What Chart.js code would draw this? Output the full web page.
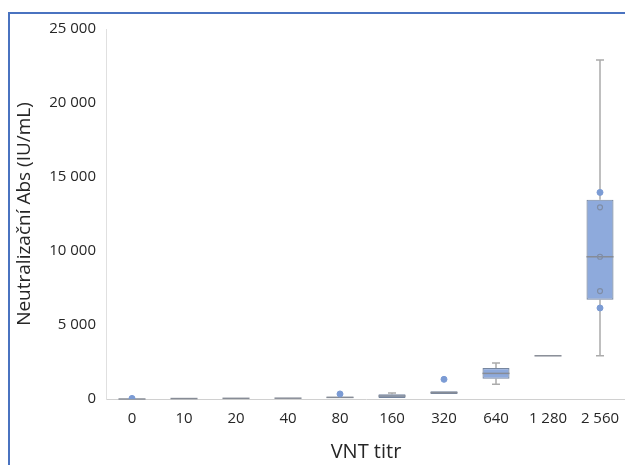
<!DOCTYPE html>
<html>
<head>
<meta charset="utf-8">
<script src="https://cdn.jsdelivr.net/npm/chart.js@4.4.1/dist/chart.umd.min.js"></script>
<style>
  html, body { margin: 0; padding: 0; overflow: hidden; background: #fff; }
  #wrap { position: absolute; left: 0; top: 0; width: 640px; height: 465px; }
</style>
</head>
<body>
<div id="wrap"><canvas id="boxChart" width="640" height="465"></canvas></div>
<script>
// kategorie VNT titru
const categories = ['0', '10', '20', '40', '80', '160', '320', '640', '1 280', '2 560'];

// souhrn boxplotu (IU/mL)
const minVals    = [0,  20, 30, 40,  60,  60, 330,  990, 2920,  2920];
const q1Vals     = [0,  30, 40, 50,  70,  70, 340, 1370, 2920,  6710];
const medianVals = [0,  30, 45, 55, 110, 200, 430, 1730, 2920,  9610];
const q3Vals     = [0,  40, 50, 60, 160, 320, 520, 2090, 2920, 13470];
const maxVals    = [20, 40, 50, 70, 160, 400, 520, 2440, 2920, 22900];

// jednotlivé body (plné a prázdné kroužky)
const filledCats = ['0', '80', '320', '2 560', '2 560'];
const filledVals = [40, 340, 1330, 13960, 6150];
const openCats = ['2 560', '2 560', '2 560'];
const openVals = [12950, 9610, 7290];

const yTicks = [0, 5000, 10000, 15000, 20000, 25000];

function fmt(v) {
    return String(v).replace(/\B(?=(\d{3})+(?!\d))/g, ' ');
}

// rámeček kolem grafu (modrá linka nahoře a vlevo)
const framePlugin = {
    id: 'frame',
    beforeDraw(chart) {
        const c = chart.ctx;
        c.save();
        c.strokeStyle = '#4a73c0';
        c.lineWidth = 2;
        c.beginPath();
        c.moveTo(9, 470);
        c.lineTo(9, 13);
        c.lineTo(700, 13);
        c.stroke();
        c.restore();
    }
};

// vousy + mediány
const whiskerPlugin = {
    id: 'whiskers',
    beforeDatasetsDraw(chart) {
        const c = chart.ctx;
        const x = chart.scales.x, y = chart.scales.y;
        c.save();
        c.strokeStyle = '#ababab';
        c.lineWidth = 1.5;
        categories.forEach(function (cat, i) {
            const cx = x.getPixelForValue(i);
            const yMin = y.getPixelForValue(minVals[i]);
            const yMax = y.getPixelForValue(maxVals[i]);
            const yQ1 = y.getPixelForValue(q1Vals[i]);
            const yQ3 = y.getPixelForValue(q3Vals[i]);
            c.beginPath();
            c.moveTo(cx, yMax); c.lineTo(cx, yQ3);
            c.moveTo(cx, yQ1); c.lineTo(cx, yMin);
            if (maxVals[i] - q3Vals[i] > 50) { c.moveTo(cx - 4, yMax); c.lineTo(cx + 4, yMax); }
            if (q1Vals[i] - minVals[i] > 100) { c.moveTo(cx - 4, yMin); c.lineTo(cx + 4, yMin); }
            c.stroke();
        });
        c.restore();
    },
    afterDatasetDraw(chart, args) {
        if (args.index !== 0) return;
        const c = chart.ctx;
        const y = chart.scales.y;
        const meta = chart.getDatasetMeta(0);
        c.save();
        c.strokeStyle = '#878c96';
        c.lineWidth = 1.5;
        meta.data.forEach(function (bar, i) {
            const half = bar.width / 2;
            const ym = y.getPixelForValue(medianVals[i]);
            c.beginPath();
            c.moveTo(bar.x - half, ym);
            c.lineTo(bar.x + half, ym);
            c.stroke();
        });
        c.restore();
    }
};

const ctx = document.getElementById('boxChart').getContext('2d');
const boxChart = new Chart(ctx, {
    data: {
        labels: categories,
        datasets: [
            {
                type: 'bar',
                label: 'box',
                data: categories.map((c, i) => [q1Vals[i], q3Vals[i]]),
                backgroundColor: '#8eaadc',
                borderColor: '#76869f',
                borderWidth: 1.2,
                borderSkipped: false,
                barPercentage: 0.52,
                categoryPercentage: 1,
                order: 3
            },
            {
                type: 'line',
                label: 'body',
                data: filledCats.map((c, i) => ({ x: c, y: filledVals[i] })),
                showLine: false,
                pointRadius: 3,
                pointBackgroundColor: '#7b9bd4',
                pointBorderColor: '#7b9bd4',
                pointBorderWidth: 1,
                order: 1
            },
            {
                type: 'line',
                label: 'vnitřní body',
                data: openCats.map((c, i) => ({ x: c, y: openVals[i] })),
                showLine: false,
                pointRadius: 2.5,
                pointBackgroundColor: 'rgba(0,0,0,0)',
                pointBorderColor: '#7f8da6',
                pointBorderWidth: 1.2,
                order: 0
            }
        ]
    },
    options: {
        responsive: false,
        animation: false,
        layout: { padding: { left: 0, right: 14, top: 29, bottom: 0 } },
        plugins: {
            legend: { display: false },
            tooltip: { enabled: false }
        },
        scales: {
            x: {
                type: 'category',
                offset: true,
                grid: { display: false, drawTicks: false },
                border: { display: true, color: '#d0d0d0', width: 1 },
                ticks: {
                    padding: 11,
                    color: '#262626',
                    font: { family: 'Open Sans', size: 15 }
                },
                title: {
                    display: true,
                    text: 'VNT titr',
                    color: '#262626',
                    font: { family: 'Open Sans', size: 20 },
                    padding: { top: 0, bottom: 1 }
                },
                afterFit(scale) { scale.height = 66; }
            },
            y: {
                min: 0,
                max: 25000,
                grid: { display: false, drawTicks: false },
                border: { display: true, color: '#e0e0e0', width: 1 },
                afterBuildTicks(scale) { scale.ticks = yTicks.map(v => ({ value: v })); },
                ticks: {
                    padding: 10,
                    color: '#262626',
                    font: { family: 'Open Sans', size: 15 },
                    callback: function (value) { return fmt(value); }
                },
                title: {
                    display: true,
                    text: 'Neutralizační Abs (IU/mL)',
                    color: '#262626',
                    font: { family: 'Open Sans', size: 19 },
                    padding: { top: 13, bottom: 0 }
                },
                afterFit(scale) { scale.width = 106; }
            }
        }
    },
    plugins: [framePlugin, whiskerPlugin]
});
</script>
</body>
</html>
